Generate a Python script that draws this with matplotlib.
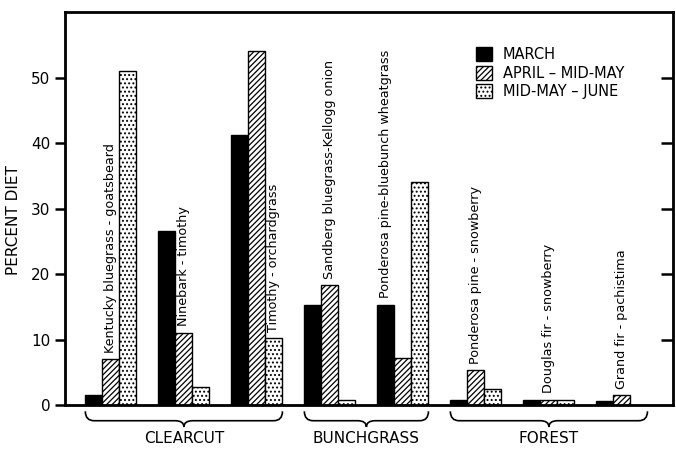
import numpy as np
import matplotlib
matplotlib.use('Agg')
import matplotlib.pyplot as plt
from matplotlib.path import Path
from matplotlib.patches import PathPatch
import matplotlib.transforms as mtransforms

# data
communities = ["Kentucky bluegrass - goatsbeard", "Ninebark - timothy",
               "Timothy - orchardgrass", "Sandberg bluegrass-Kellogg onion",
               "Ponderosa pine-bluebunch wheatgrass", "Ponderosa pine - snowberry",
               "Douglas fir - snowberry", "Grand fir - pachistima"]
march = [1.5, 26.5, 41.3, 15.2, 15.3, 0.7, 0.8, 0.6]
april_midmay = [7.0, 11.0, 54.0, 18.3, 7.2, 5.3, 0.8, 1.5]
midmay_june = [51.0, 2.7, 10.2, 0.7, 34.0, 2.4, 0.8, 0.0]
series_names = ["MARCH", "APRIL \u2013 MID-MAY", "MID-MAY \u2013 JUNE"]
habitats = ["CLEARCUT", "BUNCHGRASS", "FOREST"]
habitat_groups = [(0, 2), (3, 4), (5, 7)]
label_bar = [1, 1, 2, 1, 0, 1, 1, 1]  # which bar the rotated label sits over

plt.rcParams['hatch.linewidth'] = 0.9
fig = plt.figure(figsize=(6.76, 4.5), dpi=100)
ax = fig.add_axes([0.096, 0.1, 0.8996, 0.873])

x = np.arange(len(communities))
w = 0.233
series = [march, april_midmay, midmay_june]
styles = [dict(color='black'),
          dict(facecolor='white', hatch='//////'),
          dict(facecolor='white', hatch='....')]
for k, (vals, st) in enumerate(zip(series, styles)):
    ax.bar(x + (k - 1) * w, vals, w, edgecolor='black', linewidth=1.0,
           label=series_names[k], **st)

for i, name in enumerate(communities):
    k = label_bar[i]
    v = series[k][i]
    ax.text(x[i] + (k - 1) * w, v + 1.0, name, rotation=90, ha='center',
            va='bottom', fontsize=9.2)

ax.set_xlim(-0.63, 7.7)
ax.set_ylim(0, 60)
ax.set_yticks([0, 10, 20, 30, 40, 50])
ax.set_xticks([])
ax.tick_params(axis='y', direction='out', length=7, width=1.8, labelsize=11)
for s in ax.spines.values():
    s.set_linewidth(2)
ax.set_ylabel("PERCENT DIET", fontsize=11)
ax.yaxis.set_label_coords(-0.072, 0.47)

ax2 = ax.twinx()
ax2.set_ylim(0, 60)
ax2.set_yticks([10, 20, 30, 40, 50])
ax2.tick_params(axis='y', direction='in', length=9, width=1.8, labelright=False)

# braces below the axis
trans = mtransforms.blended_transform_factory(ax.transData, ax.transAxes)
for name, (a, b) in zip(habitats, habitat_groups):
    x0, x1 = a - 0.35, b + 0.35
    xm = (x0 + x1) / 2
    r = 0.12
    yt, ym, yb = -0.016, -0.04, -0.056
    verts = [(x0, yt), (x0, ym), (x0 + r, ym),
             (xm - r, ym), (xm, ym), (xm, yb),
             (xm, ym), (xm + r, ym),
             (x1 - r, ym), (x1, ym), (x1, yt)]
    codes = [Path.MOVETO, Path.CURVE3, Path.CURVE3,
             Path.LINETO, Path.CURVE3, Path.CURVE3,
             Path.CURVE3, Path.CURVE3,
             Path.LINETO, Path.CURVE3, Path.CURVE3]
    ax.add_patch(PathPatch(Path(verts, codes), transform=trans, fill=False,
                           lw=1.2, clip_on=False))
    ax.text(xm, -0.066, name, transform=trans, ha='center', va='top', fontsize=11)

ax.legend(loc='upper left', bbox_to_anchor=(0.655, 0.945), frameon=False,
          fontsize=10.5, handlelength=1.1, handleheight=1.1, handletextpad=0.7,
          labelspacing=0.25)

fig.savefig('out.png', dpi=100)
